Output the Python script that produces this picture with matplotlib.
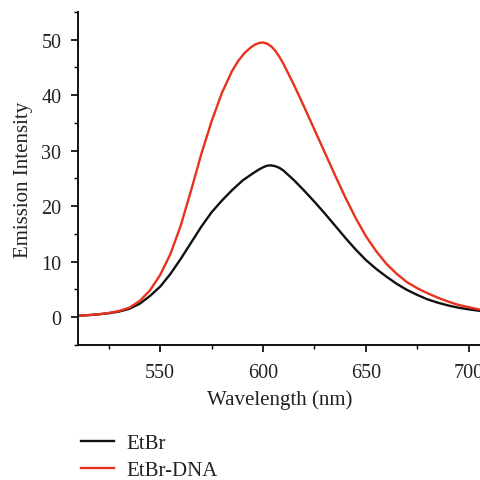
import matplotlib
matplotlib.use("Agg")
import matplotlib.pyplot as plt
from matplotlib.ticker import MultipleLocator

# Emission spectra
wl_etbr = [510, 515, 520, 525, 530, 535, 540, 545, 550, 555, 560, 565, 570, 575,
           580, 585, 590, 595, 598, 600, 602, 604, 606, 608, 610, 615, 620, 625, 630,
           635, 640, 645, 650, 655, 660, 665, 670, 675, 680, 685, 690, 695, 700, 706]
etbr = [0.25, 0.35, 0.5, 0.7, 1.0, 1.5, 2.4, 3.8, 5.5, 7.8, 10.5, 13.4, 16.3, 18.9,
        21.0, 22.9, 24.6, 25.9, 26.6, 27.0, 27.3, 27.35, 27.2, 26.9, 26.4, 24.7, 22.8, 20.8, 18.7,
        16.5, 14.3, 12.2, 10.3, 8.7, 7.3, 6.0, 4.9, 4.0, 3.2, 2.6, 2.1, 1.7, 1.4, 1.1]

wl_dna = [510, 515, 520, 525, 530, 535, 540, 545, 550, 555, 560, 565, 570, 575,
          580, 585, 588, 591, 594, 596, 598, 600, 602, 604, 606, 608, 610, 615, 620,
          625, 630, 635, 640, 645, 650, 655, 660, 665, 670, 675, 680, 685, 690, 695,
          700, 706]
etbr_dna = [0.25, 0.35, 0.5, 0.75, 1.1, 1.7, 2.9, 4.8, 7.6, 11.4, 16.5, 22.8, 29.4, 35.3,
            40.4, 44.4, 46.2, 47.6, 48.6, 49.1, 49.4, 49.5, 49.3, 48.8, 48.0, 46.9, 45.6, 41.9, 37.9,
            33.8, 29.7, 25.6, 21.6, 17.9, 14.6, 11.9, 9.6, 7.8, 6.3, 5.2, 4.3, 3.5, 2.8, 2.2,
            1.8, 1.3]

plt.rcParams['font.family'] = ['Liberation Serif', 'DejaVu Serif']
txt = '#222222'

fig = plt.figure(figsize=(4.81, 4.81), dpi=100)
ax = fig.add_axes([0.162, 0.281, 0.838, 0.692])

l1, = ax.plot(wl_etbr, etbr, color='#111111', lw=1.7, label='EtBr')
l2, = ax.plot(wl_dna, etbr_dna, color='#e8321e', lw=1.7, label='EtBr-DNA')

ax.set_xlim(510, 706)
ax.set_ylim(-5, 55)
ax.xaxis.set_major_locator(MultipleLocator(50))
ax.xaxis.set_minor_locator(MultipleLocator(25))
ax.yaxis.set_major_locator(MultipleLocator(10))
ax.yaxis.set_minor_locator(MultipleLocator(5))

for s in ['top', 'right']:
    ax.spines[s].set_visible(False)
for s in ['left', 'bottom']:
    ax.spines[s].set_linewidth(1.4)
    ax.spines[s].set_color('#111111')

ax.tick_params(which='major', direction='out', length=5, width=1.2,
               labelsize=14.5, labelcolor=txt)
ax.tick_params(which='minor', direction='out', length=3, width=1.0)
ax.tick_params(axis='x', which='major', pad=8)
ax.tick_params(axis='y', which='major', pad=7)

ax.set_xlabel('Wavelength (nm)', fontsize=15, color=txt, labelpad=5)
ax.set_ylabel('Emission Intensity', fontsize=15, color=txt, labelpad=6)

fig.legend(handles=[l1, l2], loc='upper left', bbox_to_anchor=(0.13, 0.135),
           frameon=False, fontsize=15, handlelength=1.55, handletextpad=0.6,
           labelspacing=0.35, labelcolor=txt)

fig.savefig('out.png', dpi=100)
